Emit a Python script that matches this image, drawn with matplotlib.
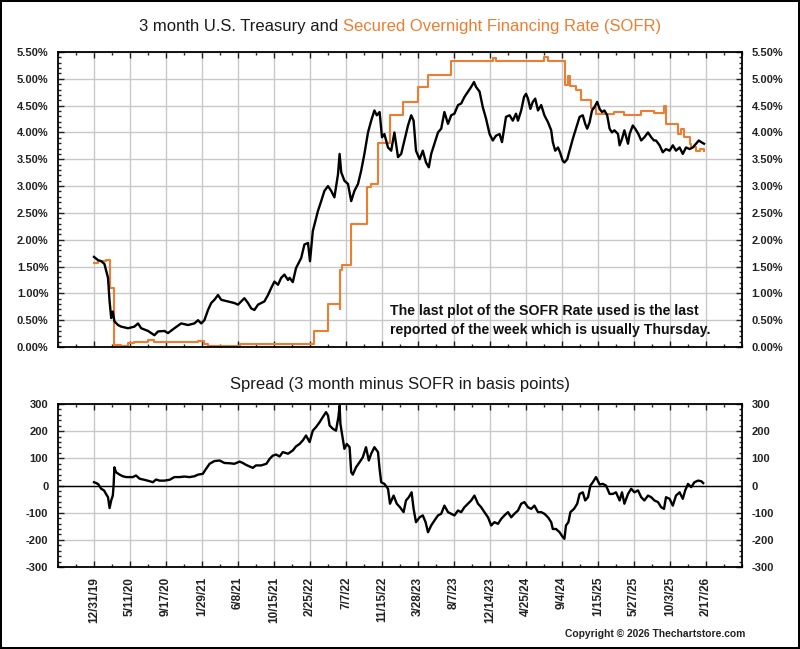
import matplotlib
matplotlib.use("Agg")
import numpy as np
import matplotlib.pyplot as plt
from matplotlib.ticker import MultipleLocator

plt.rcParams['font.family'] = ['Liberation Sans', 'DejaVu Sans']
plt.rcParams['axes.unicode_minus'] = False

ORANGE = "#ED7D31"

# x axis is trading days counted from 12/31/19
date_labels = ['12/31/19', '5/11/20', '9/17/20', '1/29/21', '6/8/21', '10/15/21',
               '2/25/22', '7/7/22', '11/15/22', '3/28/23', '8/7/23', '12/14/23',
               '4/25/24', '9/4/24', '1/15/25', '5/27/25', '10/3/25', '2/17/26']

# 3 month treasury (%)
t_day = [0, 10, 18, 26, 35, 39, 43, 47, 51, 60, 68, 85, 101, 110, 118, 135, 151, 160,
         176, 185, 201, 218, 235, 251, 260, 268, 276, 285, 293, 301, 310, 318, 335,
         351, 360, 368, 376, 385, 393, 401, 410, 426, 435, 443, 451, 460, 468, 476,
         485, 489, 497, 505, 518, 526, 535, 540, 547, 560, 568, 576, 585, 593, 601,
         610, 614, 618, 626, 635, 643, 651, 660, 668, 676, 685, 693, 701, 707, 714,
         720, 726, 735, 743, 751, 760, 768, 776, 785, 793, 799, 805, 814, 822, 830,
         837, 843, 851, 860, 868, 876, 885, 893, 901, 910, 918, 926, 935, 943, 950,
         955, 964, 972, 980, 989, 997, 1005, 1014, 1020, 1030, 1039, 1047, 1055,
         1060, 1068, 1075, 1080, 1085, 1091, 1097, 1103, 1110, 1118, 1126, 1135,
         1143, 1147, 1153, 1160, 1165, 1172, 1176, 1183, 1189, 1197, 1205, 1214,
         1222, 1228, 1233, 1239, 1245, 1251, 1258, 1264, 1270, 1276, 1283, 1289,
         1295, 1301, 1310, 1314, 1320, 1326, 1335, 1339, 1347, 1353, 1361, 1368,
         1376, 1385, 1393, 1400, 1405, 1414, 1422, 1430, 1439, 1447, 1455, 1464,
         1472, 1480, 1489, 1497, 1505, 1512, 1518, 1525]
t_rate = [1.68, 1.62, 1.60, 1.55, 1.29, 0.85, 0.54, 0.66, 0.48, 0.41, 0.38, 0.35, 0.38,
          0.44, 0.35, 0.30, 0.22, 0.29, 0.30, 0.26, 0.35, 0.44, 0.41, 0.44, 0.50, 0.44,
          0.50, 0.69, 0.82, 0.88, 0.97, 0.88, 0.85, 0.82, 0.79, 0.85, 0.91, 0.82, 0.72,
          0.69, 0.79, 0.85, 0.97, 1.10, 1.22, 1.16, 1.29, 1.35, 1.25, 1.29, 1.21, 1.47,
          1.66, 1.91, 1.94, 1.60, 2.16, 2.54, 2.72, 2.91, 3.00, 2.91, 2.79, 3.22, 3.60,
          3.26, 3.10, 3.04, 2.72, 2.91, 3.04, 3.29, 3.60, 4.00, 4.22, 4.41, 4.32, 4.38,
          3.91, 3.97, 3.72, 3.66, 4.00, 3.54, 3.60, 3.85, 4.13, 4.32, 4.22, 3.66, 3.50,
          3.66, 3.44, 3.35, 3.60, 3.79, 4.00, 4.07, 4.38, 4.16, 4.32, 4.35, 4.51, 4.54,
          4.66, 4.76, 4.85, 4.94, 4.85, 4.76, 4.47, 4.26, 3.97, 3.85, 3.94, 3.97, 3.82,
          4.29, 4.32, 4.22, 4.35, 4.22, 4.41, 4.66, 4.72, 4.63, 4.44, 4.57, 4.63, 4.41,
          4.51, 4.32, 4.19, 4.04, 3.82, 3.66, 3.72, 3.63, 3.47, 3.44, 3.50, 3.66, 3.88,
          4.07, 4.29, 4.32, 4.16, 4.07, 4.19, 4.41, 4.47, 4.57, 4.44, 4.38, 4.41, 4.32,
          4.07, 4.00, 4.04, 3.97, 3.76, 3.88, 4.04, 3.79, 3.97, 4.13, 4.07, 3.97, 3.85,
          3.91, 4.00, 3.91, 3.85, 3.85, 3.76, 3.63, 3.69, 3.66, 3.76, 3.66, 3.72, 3.60,
          3.72, 3.69, 3.72, 3.79, 3.85, 3.82, 3.79]

# SOFR (%), last weekly print
s_day = [0, 10, 30, 41, 51, 68, 85, 101, 135, 151, 185, 235, 260, 276, 285, 364,
         551, 586, 614, 615, 620, 643, 683, 693, 710, 739, 772, 810, 835, 893, 997,
         1005, 1126, 1135, 1178, 1186, 1189, 1205, 1218, 1243, 1255, 1301, 1326,
         1368, 1401, 1425, 1430, 1460, 1468, 1476, 1489, 1493, 1505, 1514, 1525]
s_rate = [1.57, 1.60, 1.62, 1.10, 0.04, 0.02, 0.08, 0.09, 0.13, 0.10, 0.09, 0.10,
          0.11, 0.05, 0.02, 0.06, 0.30, 0.80, 0.70, 1.44, 1.52, 2.29, 2.98, 3.04,
          3.80, 4.32, 4.57, 4.85, 5.07, 5.33, 5.38, 5.33, 5.40, 5.34, 4.88, 5.05,
          4.86, 4.79, 4.60, 4.45, 4.35, 4.38, 4.33, 4.40, 4.36, 4.50, 4.16, 3.97,
          4.07, 3.91, 3.79, 3.72, 3.66, 3.69, 3.66]

# spread, basis points
sp_day = [0, 6, 11, 18, 25, 30, 35, 39, 43, 47, 49, 51, 55, 64, 72, 81, 89, 97, 105,
          114, 126, 139, 147, 155, 164, 176, 189, 201, 214, 226, 239, 251, 260, 272,
          280, 289, 301, 314, 326, 339, 351, 364, 372, 380, 389, 397, 405, 418, 431,
          439, 447, 455, 464, 472, 485, 497, 505, 514, 522, 530, 539, 547, 555, 564,
          572, 580, 585, 589, 597, 605, 611, 614, 616, 622, 626, 632, 639, 643, 647,
          655, 664, 672, 680, 687, 693, 701, 710, 714, 718, 726, 735, 740, 749, 757,
          765, 774, 780, 787, 794, 799, 805, 814, 822, 829, 835, 843, 851, 860, 868,
          876, 885, 893, 901, 910, 918, 926, 935, 943, 951, 960, 968, 976, 985, 993,
          1001, 1010, 1018, 1026, 1035, 1043, 1051, 1060, 1068, 1076, 1085, 1093,
          1101, 1110, 1118, 1126, 1135, 1143, 1147, 1155, 1164, 1172, 1176, 1180,
          1186, 1191, 1200, 1208, 1214, 1222, 1228, 1235, 1241, 1247, 1255, 1264,
          1272, 1280, 1289, 1297, 1305, 1314, 1320, 1326, 1335, 1343, 1351, 1360,
          1368, 1376, 1385, 1393, 1401, 1410, 1418, 1425, 1430, 1439, 1447, 1455,
          1464, 1472, 1478, 1485, 1493, 1501, 1510, 1518, 1523]
sp_bp = [12, 9, 4, -12, -18, -31, -43, -83, -55, -37, 0, 67, 49, 40, 34, 31, 31, 31, 37,
         25, 21, 16, 12, 22, 18, 18, 21, 31, 31, 33, 31, 34, 40, 43, 61, 80, 90, 92, 83,
         82, 80, 88, 83, 76, 70, 65, 74, 74, 80, 98, 110, 114, 107, 123, 117, 129, 144,
         153, 166, 184, 160, 202, 215, 233, 252, 270, 258, 221, 209, 202, 252, 294, 227,
         172, 135, 153, 141, 49, 40, 67, 86, 104, 141, 92, 117, 141, 123, 61, 12, 6, -12,
         -67, -37, -67, -80, -98, -55, -43, -25, -86, -135, -117, -110, -135, -172, -147,
         -129, -110, -104, -74, -98, -104, -110, -92, -98, -80, -67, -55, -37, -67, -80,
         -98, -117, -147, -135, -141, -123, -110, -98, -117, -104, -92, -67, -61, -80,
         -86, -74, -98, -98, -104, -117, -135, -160, -160, -172, -190, -196, -147, -135,
         -98, -86, -67, -31, -25, -55, -43, 0, 12, 31, 4, 6, 0, -31, -31, -25, -55, -25,
         -67, -31, -12, -25, -18, -43, -55, -37, -43, -55, -61, -80, -86, -43, -49, -74,
         -37, -25, -49, -18, 6, -6, 12, 18, 16, 9]

label_pos = [90 * i for i in range(len(date_labels))]

fig = plt.figure(figsize=(8.0, 6.49), dpi=100)
fig.patch.set_edgecolor("black")
fig.patch.set_linewidth(1.5)

ax1 = fig.add_axes([0.0725, 0.4653, 0.855, 0.4546])
ax2 = fig.add_axes([0.0725, 0.1263, 0.855, 0.2512])


def style_axes(ax, yticks, ylabels):
    ax.set_xlim(-90, 1620)
    ax.set_xticks(label_pos)
    ax.xaxis.set_minor_locator(MultipleLocator(45))
    ax.set_yticks(yticks)
    ax.set_yticklabels(ylabels, fontweight='bold')
    ax.grid(True, which='major', color='#C8C8C8', linewidth=1.0)
    ax.set_axisbelow(True)
    for sp in ax.spines.values():
        sp.set_linewidth(1.3)
    ax.tick_params(which='both', direction='in', top=True, right=True,
                   labelright=True, labelsize=8, colors='#222222', width=1.0)
    ax.tick_params(axis='y', which='major', pad=7)
    ax.tick_params(which='major', length=4)
    ax.tick_params(which='minor', length=2.5)


# top chart
ax1.plot(s_day, s_rate, color=ORANGE, linewidth=1.5, drawstyle='steps-post')
ax1.plot(t_day, t_rate, color='black', linewidth=1.7)
ax1.set_ylim(0, 5.5)
pct_ticks = np.arange(0, 5.51, 0.5)
style_axes(ax1, pct_ticks, ['%.2f%%' % v for v in pct_ticks])
ax1.yaxis.set_minor_locator(MultipleLocator(0.1))
ax1.tick_params(axis='x', labelbottom=False)
ax1.text(0.485, 0.09, "The last plot of the SOFR Rate used is the last\n"
         "reported of the week which is usually Thursday.",
         transform=ax1.transAxes, fontsize=10.2, fontweight='bold',
         ha='left', va='center', linespacing=1.5, color='#111111')

# bottom chart
ax2.axhline(0, color='black', linewidth=1.0)
ax2.plot(sp_day, sp_bp, color='black', linewidth=1.7)
ax2.set_ylim(-300, 300)
bp_ticks = np.arange(-300, 301, 100)
style_axes(ax2, bp_ticks, ['%d' % v for v in bp_ticks])
ax2.yaxis.set_minor_locator(MultipleLocator(20))
ax2.set_xticklabels(date_labels, rotation=90, fontsize=8.5, fontweight='bold',
                    family=['Liberation Sans Narrow', 'Liberation Sans'])
ax2.tick_params(axis='x', which='major', pad=7)

# titles
t1 = fig.text(139 / 800, 1 - 27 / 649, "3 month U.S. Treasury and ", fontsize=12,
              color='#1a1a1a', ha='left', va='center')
ax1.annotate("Secured Overnight Financing Rate (SOFR)", xy=(1, 0), xycoords=t1,
             va='bottom', ha='left', fontsize=12, color=ORANGE,
             annotation_clip=False)
fig.text(0.5, 1 - 384 / 649, "Spread (3 month minus SOFR in basis points)",
         fontsize=12, color='#1a1a1a', ha='center', va='center')
fig.text(745 / 800, 1 - 634 / 649, "Copyright \u00a9 2026 Thechartstore.com",
         fontsize=7.4, fontweight='bold', ha='right', va='center', color='#222222')

fig.savefig("out.png", dpi=100, edgecolor=fig.get_edgecolor())
